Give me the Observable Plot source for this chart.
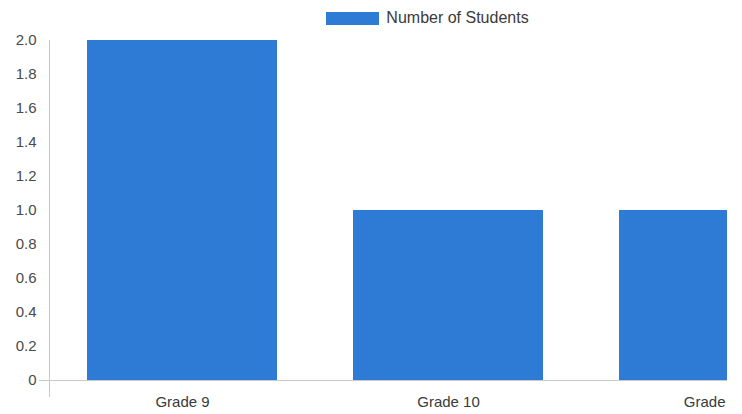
<!DOCTYPE html>
<html>
<head>
<meta charset="utf-8">
<script src="https://cdn.jsdelivr.net/npm/d3@7"></script>
<script src="https://cdn.jsdelivr.net/npm/@observablehq/plot@0.6"></script>
<style>
  html, body { margin: 0; padding: 0; background: #fff; }
  #viewport { width: 727px; height: 414px; overflow: hidden; }
  #chart { width: 855px; font-family: "Liberation Sans", Arial, sans-serif; }
  .legend { height: 30px; display: flex; justify-content: center; align-items: flex-start; }
  .legend .swatch { width: 53px; height: 13px; margin-top: 12px; background: #2e7bd6; }
  .legend .label { margin-left: 7px; margin-top: 9px; font-size: 16px; line-height: 18px; color: #3a3a3a; }
</style>
</head>
<body>
<div id="viewport"><div id="chart"></div></div>
<script>
// Students per grade
const grades = ["Grade 9", "Grade 10", "Grade 11"];
const students = [2, 1, 1];
const seriesName = "Number of Students";
const yTicks = [0, 0.2, 0.4, 0.6, 0.8, 1.0, 1.2, 1.4, 1.6, 1.8, 2.0];

const barColor = "#2e7bd6";
const rows = grades.map((g, i) => ({grade: g, count: students[i]}));

const chart = document.getElementById("chart");

// Legend above the plot
const legend = document.createElement("div");
legend.className = "legend";
legend.innerHTML = `<div class="swatch"></div><div class="label"></div>`;
legend.querySelector(".label").textContent = seriesName;
chart.appendChild(legend);

const plot = Plot.plot({
  width: 855,
  height: 384,
  marginTop: 10,
  marginBottom: 34,
  marginLeft: 49,
  marginRight: 8,
  style: {
    fontFamily: "'Liberation Sans', Arial, sans-serif",
    fontSize: "15px",
    color: "#555",
    background: "white",
    overflow: "hidden"
  },
  x: {domain: grades, padding: 0, round: false, label: null},
  y: {domain: [0, 2], label: null},
  marks: [
    Plot.barY(rows, {x: "grade", y: "count", fill: barColor, insetLeft: 38, insetRight: 38}),
    Plot.ruleY([0], {stroke: "#c8c8c8", insetLeft: -10}),
    Plot.frame({anchor: "left", stroke: "#c8c8c8", insetBottom: -16}),
    Plot.axisY(yTicks, {
      tickSize: 0,
      tickPadding: 13,
      tickFormat: d => d === 0 ? "0" : d.toFixed(1),
      label: null,
      fill: "#4a4a4a"
    }),
    Plot.axisX({tickSize: 0, tickPadding: 16, label: null, fill: "#3a3a3a"})
  ]
});
chart.appendChild(plot);
</script>
</body>
</html>
